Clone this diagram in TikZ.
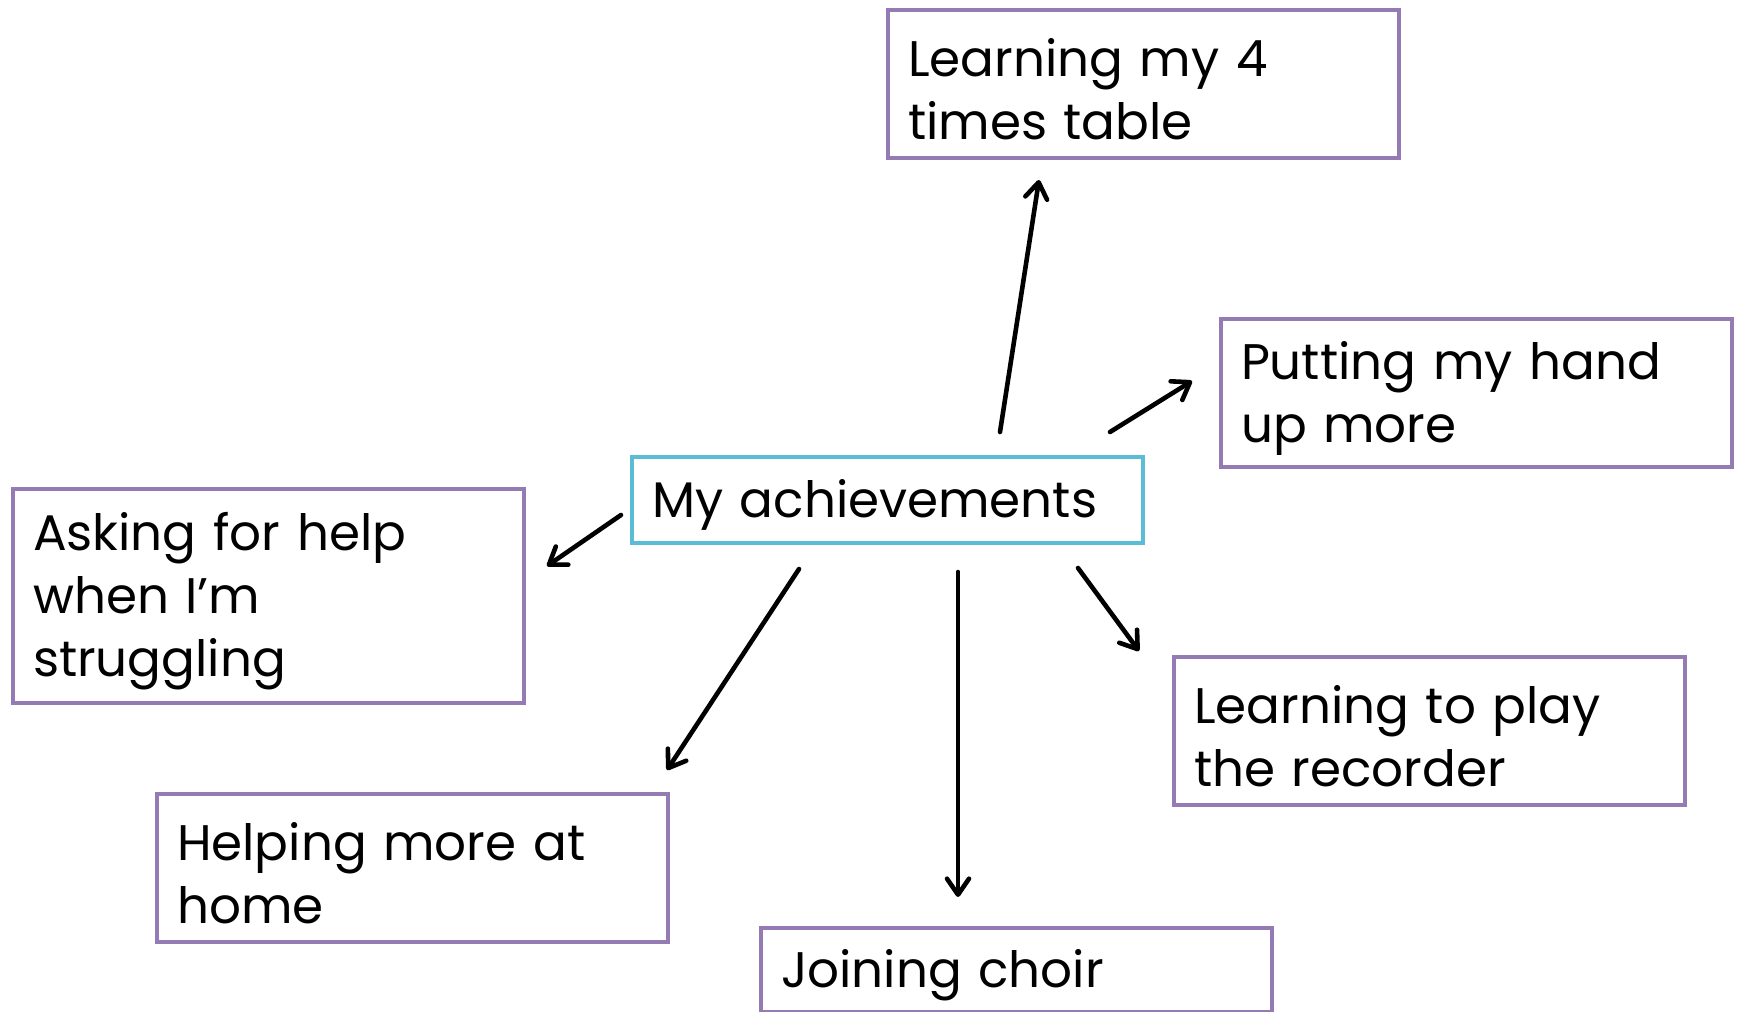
\documentclass[tikz,border=0pt]{standalone}
\usepackage{fontspec}
\setmainfont{Poppins}
\usetikzlibrary{arrows.meta}
\definecolor{boxpurple}{HTML}{957BB3}
\definecolor{boxcyan}{HTML}{5BBCD6}
\begin{document}
\begin{tikzpicture}[x=0.5pt,y=-0.5pt,
  goal/.style={draw=boxpurple, line width=2pt, fill=white, anchor=north west,
    minimum width=255.5pt, minimum height=74pt, inner xsep=10pt, inner ysep=0pt,
    text width=235.5pt, align=left, font=\fontsize{25}{31.5}\selectfont,
    execute at begin node={\rule{0pt}{24pt}}},
  hub/.style={goal, draw=boxcyan},
  link/.style={line width=2.3pt, line cap=round,
    -{Straight Barb[length=8pt,width=11pt,line width=2.3pt,round]}}]
  \useasboundingbox (0,0) rectangle (1737,1012);

  % central topic
  \node[hub, minimum height=43pt] (hub) at (630,455) {My achievements};

  % achievements around it
  \node[goal] (times) at (886,8) {Learning my 4\\times table};
  \node[goal] (hand) at (1219,317) {Putting my hand\\up more};
  \node[goal, minimum height=107pt] (help) at (11,487) {Asking for help\\when I’m\\struggling};
  \node[goal] (home) at (155,792) {Helping more at\\home};
  \node[goal, minimum height=42pt] (choir) at (759,926) {Joining choir};
  \node[goal] (recorder) at (1172,655) {Learning to play\\the recorder};

  % arrow ends
  \coordinate (s1) at (1000,432); \coordinate (e1) at (1039,180);
  \coordinate (s2) at (1110,432); \coordinate (e2) at (1192,381);
  \coordinate (s3) at (621,515);  \coordinate (e3) at (547,566);
  \coordinate (s4) at (799,569);  \coordinate (e4) at (667,770);
  \coordinate (s5) at (958,572);  \coordinate (e5) at (958,897);
  \coordinate (s6) at (1078,568); \coordinate (e6) at (1139,651);

  \draw[link] (s1) -- (e1);
  \draw[link] (s2) -- (e2);
  \draw[link] (s3) -- (e3);
  \draw[link] (s4) -- (e4);
  \draw[link] (s5) -- (e5);
  \draw[link] (s6) -- (e6);
\end{tikzpicture}
\end{document}
